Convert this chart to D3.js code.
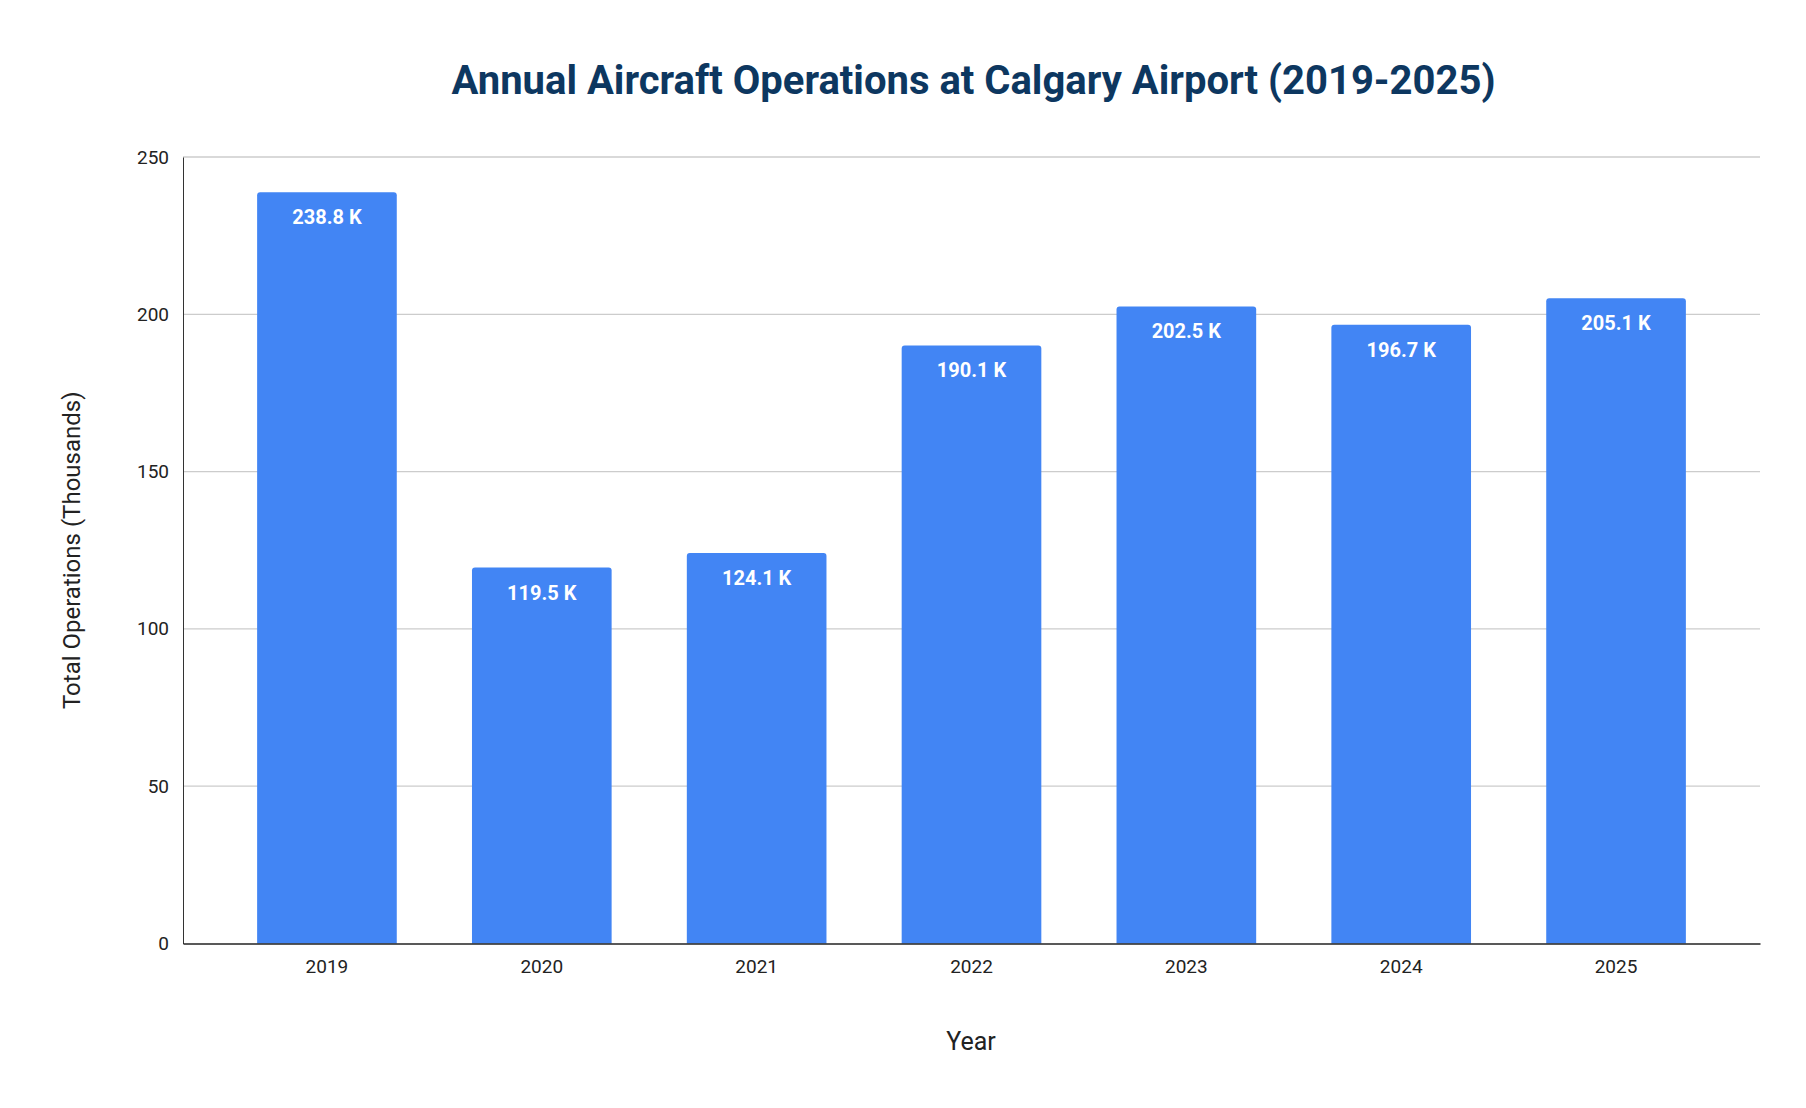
<!DOCTYPE html><html><head><meta charset="utf-8"><script src="https://cdn.jsdelivr.net/npm/d3@7"></script>
<style>body{margin:0;background:#fff}text{font-family:Roboto,Arial,sans-serif}</style></head><body><svg id="c" width="1806" height="1108"></svg><script>
const years=["2019","2020","2021","2022","2023","2024","2025"];
const values=[238.8,119.5,124.1,190.1,202.5,196.7,205.1];
const yTicks=[0,50,100,150,200,250];
const svg=d3.select("#c");
const L=183,R=1760,T=157,B=943.5;
const x=d3.scaleBand().domain(years).range([L,R]).paddingInner(0.35).paddingOuter(0.345);
const y=d3.scaleLinear().domain([0,250]).range([B,T]);
svg.append("g").selectAll("line").data(yTicks.slice(1)).join("line").attr("x1",L).attr("x2",R).attr("y1",d=>y(d)).attr("y2",d=>y(d)).attr("stroke","#cccccc").attr("stroke-width",1.3);
const ya=svg.append("g").attr("transform",`translate(${L},0)`).call(d3.axisLeft(y).tickValues(yTicks).tickSize(0).tickPadding(14));
ya.select(".domain").attr("stroke","#333");ya.selectAll("text").attr("font-size",19).attr("fill","#222");
const r=3;
svg.append("g").selectAll("path").data(values).join("path").attr("fill","#4285f4").attr("d",(d,i)=>{const x0=x(years[i]),w=x.bandwidth(),y0=y(d);return `M${x0},${B}V${y0+r}Q${x0},${y0} ${x0+r},${y0}H${x0+w-r}Q${x0+w},${y0} ${x0+w},${y0+r}V${B}Z`;});
svg.append("g").selectAll("text").data(values).join("text").attr("x",(d,i)=>x(years[i])+x.bandwidth()/2).attr("y",d=>y(d)+32).attr("text-anchor","middle").attr("fill","#fff").attr("font-weight","bold").attr("font-size",20).text(d=>d.toFixed(1)+" K");
const xa=svg.append("g").attr("transform",`translate(0,${B})`).call(d3.axisBottom(x).tickSize(0).tickPadding(16));
xa.select(".domain").attr("stroke","#222").attr("stroke-width",1.5);xa.selectAll("text").attr("font-size",19).attr("fill","#222");
svg.append("text").attr("x",(L+R)/2+2).attr("y",94).attr("text-anchor","middle").attr("font-size",40).attr("font-weight","bold").attr("fill","#0d3760").text("Annual Aircraft Operations at Calgary Airport (2019-2025)");
svg.append("text").attr("x",971).attr("y",1050).attr("text-anchor","middle").attr("font-size",25).attr("fill","#222").text("Year");
svg.append("text").attr("transform",`translate(80,${(T+B)/2}) rotate(-90)`).attr("text-anchor","middle").attr("font-size",24).attr("fill","#222").text("Total Operations (Thousands)");
</script></body></html>
